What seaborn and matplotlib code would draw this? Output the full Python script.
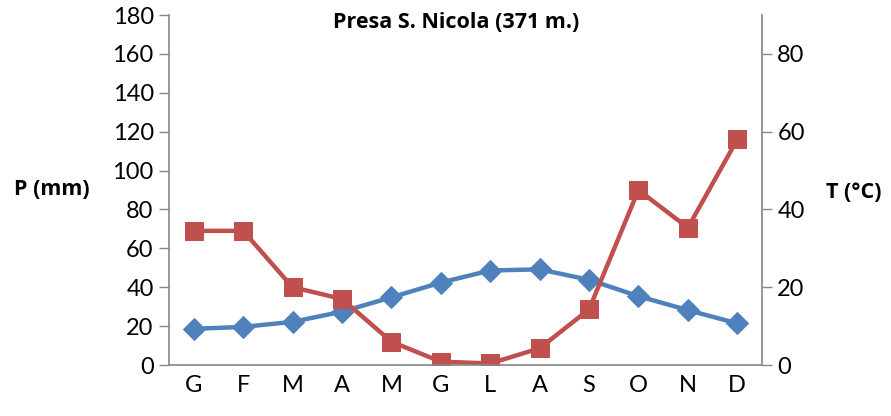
import numpy as np
import pandas as pd
import matplotlib
matplotlib.use("Agg")
import matplotlib.pyplot as plt
import seaborn as sns

months = ["G", "F", "M", "A", "M", "G", "L", "A", "S", "O", "N", "D"]
precip_mm = [69, 69, 40, 34, 12, 1.7, 0.8, 8.6, 28.6, 90, 70.6, 116]
temp_c = [9.3, 9.8, 11.1, 13.7, 17.4, 21.2, 24.3, 24.6, 21.9, 17.7, 14.1, 10.7]

sns.set_style("white")
plt.rcParams["font.family"] = ["Lato", "DejaVu Sans"]
plt.rcParams["text.color"] = "black"
plt.rcParams["xtick.labelcolor"] = "black"
plt.rcParams["ytick.labelcolor"] = "black"

df = pd.DataFrame({"pos": np.arange(len(months)), "P": precip_mm, "T": temp_c})

red = "#C0504D"
blue = "#4F81BD"
grey = "#868686"

fig = plt.figure(figsize=(8.91, 4.16), dpi=100)
ax = fig.add_axes([169 / 891, 51 / 416, 593 / 891, 350 / 416])
ax2 = ax.twinx()

sns.lineplot(data=df, x="pos", y="T", ax=ax2, color=blue, marker="D",
             markersize=11, markeredgecolor=blue, linewidth=3.2)
sns.lineplot(data=df, x="pos", y="P", ax=ax, color=red, marker="s",
             markersize=13, markeredgecolor=red, linewidth=3.2)

# red series drawn over blue
ax.set_zorder(ax2.get_zorder() + 1)
ax.patch.set_visible(False)

ax.set_xlim(-0.5, len(months) - 0.5)
ax.set_ylim(0, 180)
ax2.set_ylim(0, 90)
ax.set_yticks(range(0, 181, 20))
ax2.set_yticks(range(0, 81, 20))

ax.set_xticks(np.arange(-0.5, len(months), 1.0))
ax.set_xticklabels([])
ax.set_xticks(np.arange(len(months)), minor=True)
ax.set_xticklabels(months, minor=True)
ax.tick_params(axis="x", which="major", direction="out", length=7, width=1, color=grey)
ax.tick_params(axis="x", which="minor", length=0, pad=7, labelsize=17, labelcolor="black")
ax.tick_params(axis="y", direction="out", length=7, width=1, color=grey, labelsize=17,
               pad=4, labelcolor="black")
ax2.tick_params(axis="y", direction="out", length=7, width=1, color=grey, labelsize=17,
                pad=4, labelcolor="black")

for a in (ax, ax2):
    for s in a.spines.values():
        s.set_visible(False)
    a.set_xlabel("")
    a.set_ylabel("")
ax.spines["left"].set_visible(True)
ax.spines["bottom"].set_visible(True)
ax2.spines["right"].set_visible(True)
for s in (ax.spines["left"], ax.spines["bottom"], ax2.spines["right"]):
    s.set_color(grey)
    s.set_linewidth(1.2)

bold_font = ["Open Sans", "DejaVu Sans"]
fig.text(456 / 891, 1 - 22 / 416, "Presa S. Nicola (371 m.)", ha="center", va="center",
         fontsize=15.5, fontweight="bold", family=bold_font, color="black")
fig.text(52 / 891, 1 - 190 / 416, "P (mm)", ha="center", va="center",
         fontsize=15.5, fontweight="bold", family=bold_font, color="black")
fig.text(854 / 891, 1 - 192 / 416, "T (°C)", ha="center", va="center",
         fontsize=15.5, fontweight="bold", family=bold_font, color="black")

fig.savefig("out.png", dpi=100)
